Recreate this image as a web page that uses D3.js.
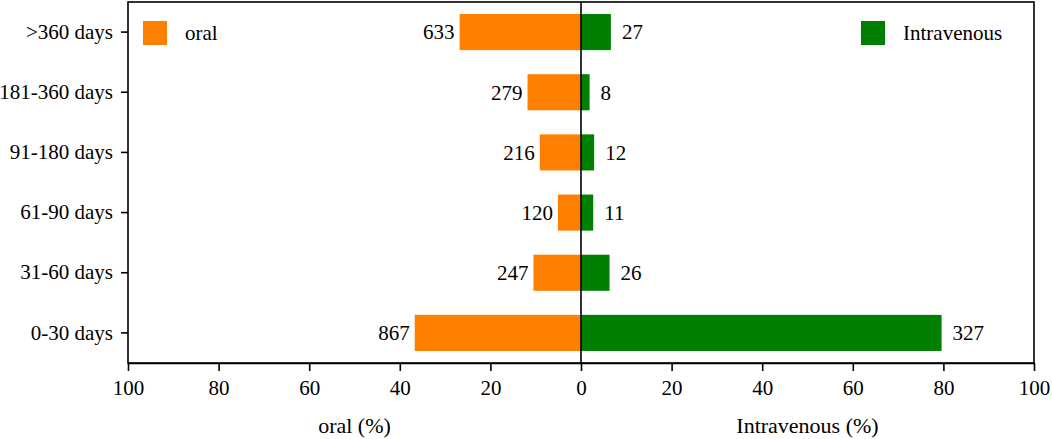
<!DOCTYPE html>
<html>
<head>
<meta charset="utf-8">
<script src="https://cdn.jsdelivr.net/npm/d3@7"></script>
<style>
  body {margin:0; background:#fff;}
  svg text {font-family:"Liberation Serif","Times New Roman",serif; fill:#000;}
  .axis path, .axis line {stroke:#000; stroke-width:1.6px;}
</style>
</head>
<body>
<svg width="1052" height="439"></svg>
<script>
// categories top to bottom
var categories = [">360 days", "181-360 days", "91-180 days", "61-90 days", "31-60 days", "0-30 days"];
// bar lengths in percent
var oralPct = [26.8, 11.8, 9.1, 5.1, 10.5, 36.7];
var ivPct = [6.6, 1.9, 2.9, 2.7, 6.3, 79.6];
// counts shown next to bars
var oralCount = [633, 279, 216, 120, 247, 867];
var ivCount = [27, 8, 12, 11, 26, 327];
var leftTicks = [100, 80, 60, 40, 20];
var rightTicks = [0, 20, 40, 60, 80, 100];

var fs = "21px";

var svg = d3.select("svg"),
    plotLeft = 128, plotRight = 1034, plotTop = 2, plotBottom = 363,
    mid = (plotLeft + plotRight) / 2;

var xL = d3.scaleLinear().domain([100, 0]).range([plotLeft, mid]);
var xR = d3.scaleLinear().domain([0, 100]).range([mid, plotRight]);
var y = d3.scaleBand().domain(categories).range([plotTop, plotBottom]).paddingInner(0.4).paddingOuter(0.2);

var rows = categories.map(function(c, i) {
  return {cat: c, oral: oralPct[i], iv: ivPct[i], oc: oralCount[i], ic: ivCount[i]};
});

// bars
svg.append("g").selectAll("rect").data(rows).enter().append("rect")
    .attr("x", function(d) { return xL(d.oral); })
    .attr("y", function(d) { return y(d.cat); })
    .attr("width", function(d) { return mid - xL(d.oral); })
    .attr("height", y.bandwidth())
    .attr("fill", "#ff8000");

svg.append("g").selectAll("rect").data(rows).enter().append("rect")
    .attr("x", mid)
    .attr("y", function(d) { return y(d.cat); })
    .attr("width", function(d) { return xR(d.iv) - mid; })
    .attr("height", y.bandwidth())
    .attr("fill", "#008000");

// value labels
svg.append("g").selectAll("text").data(rows).enter().append("text")
    .attr("x", function(d) { return xL(d.oral) - 5; })
    .attr("y", function(d) { return y(d.cat) + y.bandwidth() / 2; })
    .attr("dy", "0.35em")
    .attr("text-anchor", "end")
    .style("font-size", fs)
    .text(function(d) { return d.oc; });

svg.append("g").selectAll("text").data(rows).enter().append("text")
    .attr("x", function(d) { return xR(d.iv) + 11; })
    .attr("y", function(d) { return y(d.cat) + y.bandwidth() / 2; })
    .attr("dy", "0.35em")
    .style("font-size", fs)
    .text(function(d) { return d.ic; });

// center line
svg.append("line")
    .attr("x1", mid).attr("x2", mid).attr("y1", plotTop).attr("y2", plotBottom)
    .attr("stroke", "#000").attr("stroke-width", 1.6);

// frame
svg.append("rect")
    .attr("x", plotLeft).attr("y", plotTop)
    .attr("width", plotRight - plotLeft).attr("height", plotBottom - plotTop)
    .attr("fill", "none").attr("stroke", "#000").attr("stroke-width", 1.6);

// axes
var yAxis = svg.append("g").attr("class", "axis")
    .attr("transform", "translate(" + plotLeft + ",0)")
    .call(d3.axisLeft(y).tickSize(7).tickPadding(8).tickSizeOuter(0));
yAxis.select(".domain").remove();

svg.append("g").attr("class", "axis")
    .attr("transform", "translate(0," + plotBottom + ")")
    .call(d3.axisBottom(xL).tickValues(leftTicks).tickSize(8).tickPadding(9).tickSizeOuter(0));
svg.append("g").attr("class", "axis")
    .attr("transform", "translate(0," + plotBottom + ")")
    .call(d3.axisBottom(xR).tickValues(rightTicks).tickSize(8).tickPadding(9).tickSizeOuter(0));
svg.selectAll(".axis text").style("font-size", fs);

// axis titles
svg.append("text").attr("x", (plotLeft + mid) / 2).attr("y", 433)
    .attr("text-anchor", "middle").style("font-size", "22px").text("oral (%)");
svg.append("text").attr("x", (mid + plotRight) / 2).attr("y", 433)
    .attr("text-anchor", "middle").style("font-size", "22px").text("Intravenous (%)");

// legend
var legend = [{name: "oral", color: "#ff8000", x: 143}, {name: "Intravenous", color: "#008000", x: 861}];
var lg = svg.append("g").selectAll("g").data(legend).enter().append("g")
    .attr("transform", function(d) { return "translate(" + d.x + ",21)"; });
lg.append("rect").attr("width", 24).attr("height", 24).attr("fill", function(d) { return d.color; });
lg.append("text").attr("x", 42).attr("y", 12).attr("dy", "0.35em")
    .style("font-size", fs).text(function(d) { return d.name; });
</script>
</body>
</html>
